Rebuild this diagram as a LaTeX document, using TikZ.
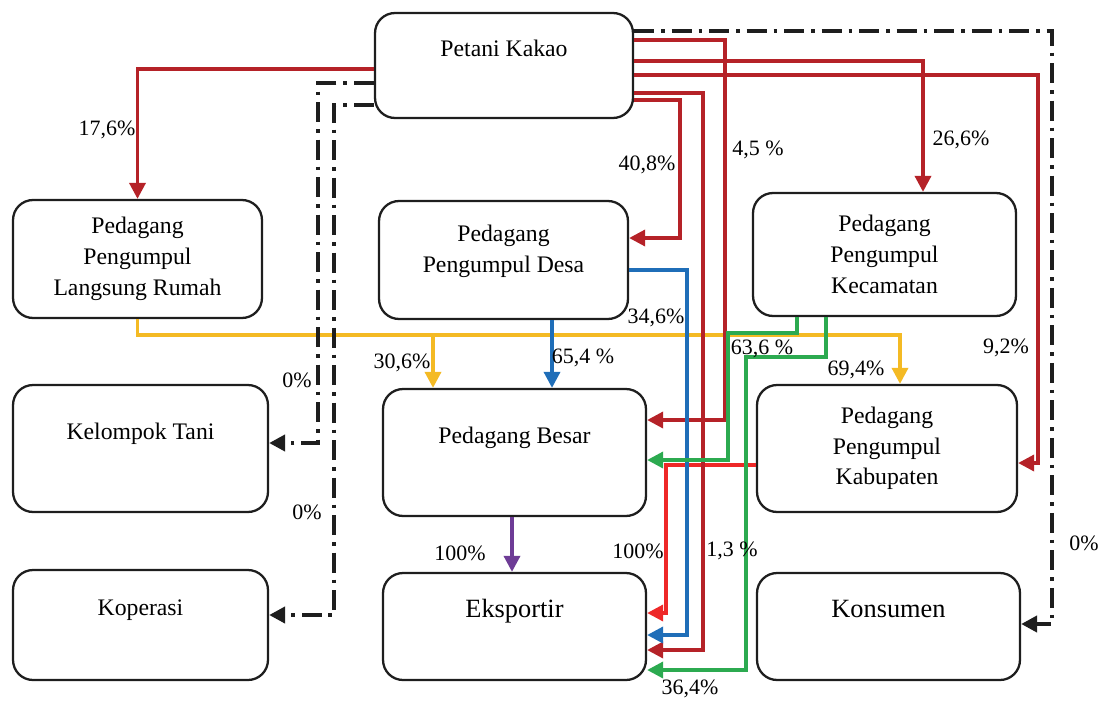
\documentclass[tikz,border=0pt]{standalone}
\usepackage{fontspec}
\setmainfont{Liberation Serif}
\usetikzlibrary{arrows.meta}
\definecolor{merah}{RGB}{181,34,40}
\definecolor{merahterang}{RGB}{238,40,40}
\definecolor{biru}{RGB}{31,110,184}
\definecolor{hijau}{RGB}{44,170,80}
\definecolor{kuning}{RGB}{244,186,36}
\definecolor{ungu}{RGB}{110,60,150}
\definecolor{hitam}{RGB}{30,30,30}
\tikzset{
  box/.style={draw=hitam, line width=1.3pt, rounded corners=0.4cm, align=center,
    font=\fontsize{13.5}{17.5}\selectfont},
  upper/.style={text height=0.7em, text depth=0.62cm},
  pct/.style={font=\fontsize{12.5}{14}\selectfont},
  flow/.style={line width=2pt, -{Triangle[length=0.32cm,width=0.32cm]}},
  dashflow/.style={flow, draw=hitam, line width=2.5pt,
    dash pattern=on 0.4cm off 0.14cm on 0.07cm off 0.14cm},
}

\begin{document}
\begin{tikzpicture}[x=0.02cm, y=-0.02cm]
            \useasboundingbox (0,0) rectangle (1098,700);

            %Nodes
            \node[box, upper, minimum width=5.16cm, minimum height=2.1cm] at (504,65.5) (pk) {Petani Kakao};
            \node[box, minimum width=4.98cm, minimum height=2.36cm] at (137.5,259) (lr) {Pedagang\\Pengumpul\\Langsung Rumah};
            \node[box, text depth=0.46cm, minimum width=4.98cm, minimum height=2.36cm] at (503.5,260) (desa) {Pedagang\\Pengumpul Desa};
            \node[box, minimum width=5.26cm, minimum height=2.46cm] at (884.5,254.5) (kec) {Pedagang\\Pengumpul\\Kecamatan};
            \node[box, upper, minimum width=5.1cm, minimum height=2.54cm] at (140.5,448.5) (tani) {Kelompok Tani};
            \node[box, upper, minimum width=5.26cm, minimum height=2.54cm] at (514.5,452.5) (besar) {Pedagang Besar};
            \node[box, minimum width=5.2cm, minimum height=2.54cm] at (887,448.5) (kab) {Pedagang\\Pengumpul\\Kabupaten};
            \node[box, upper, minimum width=5.1cm, minimum height=2.2cm] at (140.5,625) (kop) {Koperasi};
            \node[box, upper, font=\fontsize{15}{18}\selectfont, minimum width=5.26cm, minimum height=2.14cm] at (514.5,626.5) (eks) {Eksportir};
            \node[box, upper, font=\fontsize{15}{18}\selectfont, minimum width=5.26cm, minimum height=2.14cm] at (888.5,626.5) (kons) {Konsumen};

            \coordinate (ysplit) at (433,335);

            %Lines
            \draw[flow, draw=kuning] (lr.south) |- (ysplit) -- (besar.north -| ysplit);
            \draw[flow, draw=kuning] (ysplit) -| (kab.north -| 900,0);
            \draw[flow, draw=merahterang] (kab.west |- 0,465) -| (666,613) -- (eks.east |- 0,613);

            \draw[flow, draw=merah] (pk.west |- 0,69) -| (lr.north);
            \draw[flow, draw=merah] (pk.east |- 0,100) -| (680,238) -- (desa.east |- 0,238);
            \draw[flow, draw=merah] (pk.east |- 0,93) -| (703,650) -- (eks.east |- 0,650);
            \draw[flow, draw=merah] (pk.east |- 0,40) -| (725,420) -- (besar.east |- 0,420);
            \draw[flow, draw=merah] (pk.east |- 0,61) -| (kec.north -| 923,0);
            \draw[flow, draw=merah] (pk.east |- 0,75) -| (1038,463) -- (kab.east |- 0,463);

            \draw[dashflow] (pk.east |- 0,31) -| (1052,624) -- (kons.east |- 0,624);
            \draw[dashflow] (pk.west |- 0,83) -| (318,443) -- (tani.east |- 0,443);
            \draw[dashflow] (pk.west |- 0,105) -| (334,615) -- (kop.east |- 0,615);

            \draw[flow, draw=biru] (desa.south -| 552,0) -- (besar.north -| 552,0);
            \draw[flow, draw=biru] (desa.east |- 0,270) -| (687,635) -- (eks.east |- 0,635);

            \draw[flow, draw=hijau] (kec.south -| 797,0) |- (728,333) |- (besar.east |- 0,460);
            \draw[flow, draw=hijau] (kec.south -| 826,0) |- (746,357) |- (eks.east |- 0,670);

            \draw[flow, draw=ungu] (besar.south -| 512,0) -- (eks.north -| 512,0);

            %Labels
            \node[pct] at (107,130) (l176) {17,6\%};
            \node[pct] at (647,165) (l408) {40,8\%};
            \node[pct] at (758,150) (l45) {4,5 \%};
            \node[pct] at (961,140) (l266) {26,6\%};
            \node[pct] at (1006,348) (l92) {9,2\%};
            \node[pct] at (1084,543) (l0kons) {0\%};
            \node[pct] at (297,380) (l0tani) {0\%};
            \node[pct] at (307,512) (l0kop) {0\%};
            \node[pct] at (402,363) (l306) {30,6\%};
            \node[pct] at (583,358) (l654) {65,4 \%};
            \node[pct] at (656,318) (l346) {34,6\%};
            \node[pct] at (762,349) (l636) {63,6 \%};
            \node[pct] at (856,370) (l694) {69,4\%};
            \node[pct] at (690,689) (l364) {36,4\%};
            \node[pct] at (638,551) (l100kab) {100\%};
            \node[pct] at (460,553) (l100besar) {100\%};
            \node[pct] at (732,551) (l13) {1,3 \%};
        \end{tikzpicture}
\end{document}
